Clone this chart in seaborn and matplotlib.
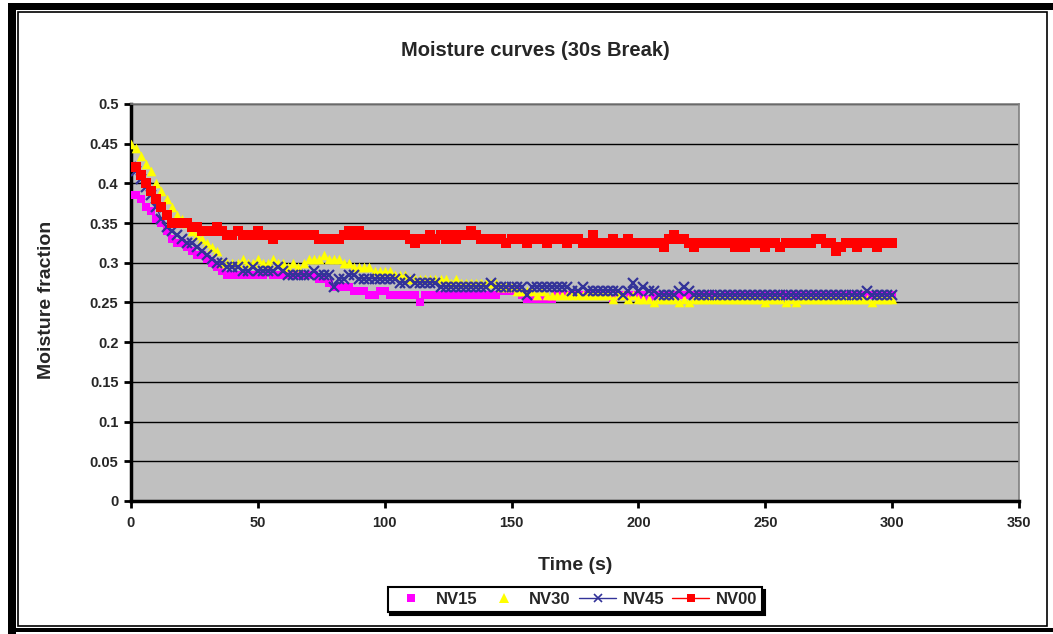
"""Moisture curves (30s Break) - recreated with seaborn + matplotlib."""

import matplotlib

matplotlib.use("Agg")

import matplotlib.pyplot as plt
import seaborn as sns
from matplotlib.lines import Line2D
from matplotlib.patches import Rectangle

# Sample times (s), one reading every 2 s
TIME_S = list(range(0, 301, 2))

NV15 = [
    0.385, 0.385, 0.38, 0.37, 0.365, 0.355, 0.35, 0.34, 0.33, 0.325,
    0.325, 0.32, 0.315, 0.31, 0.31, 0.305, 0.30, 0.295, 0.29, 0.285,
    0.285, 0.285, 0.285, 0.285, 0.285, 0.285, 0.285, 0.29, 0.285, 0.285,
    0.285, 0.285, 0.285, 0.285, 0.285, 0.285, 0.285, 0.28, 0.28, 0.275,
    0.27, 0.27, 0.27, 0.27, 0.265, 0.265, 0.265, 0.26, 0.26, 0.265,
    0.265, 0.26, 0.26, 0.26, 0.26, 0.26, 0.26, 0.25, 0.26, 0.26,
    0.26, 0.26, 0.26, 0.26, 0.26, 0.26, 0.26, 0.26, 0.26, 0.26,
    0.26, 0.26, 0.26, 0.265, 0.265, 0.265, 0.265, 0.26, 0.255, 0.255,
    0.255, 0.255, 0.255, 0.255, 0.26, 0.26, 0.26, 0.26, 0.26, 0.26,
    0.26, 0.26, 0.26, 0.26, 0.26, 0.255, 0.26, 0.26, 0.26, 0.26,
    0.26, 0.26, 0.255, 0.26, 0.26, 0.26, 0.26, 0.26, 0.26, 0.26,
    0.26, 0.26, 0.26, 0.26, 0.26, 0.26, 0.255, 0.26, 0.26, 0.26,
    0.26, 0.26, 0.26, 0.26, 0.26, 0.26, 0.26, 0.26, 0.26, 0.26,
    0.26, 0.26, 0.26, 0.26, 0.26, 0.26, 0.26, 0.26, 0.26, 0.26,
    0.26, 0.26, 0.26, 0.26, 0.26, 0.26, 0.26, 0.26, 0.26, 0.26,
    0.26,
]

NV30 = [
    0.45, 0.445, 0.435, 0.425, 0.415, 0.40, 0.39, 0.38, 0.37, 0.36,
    0.355, 0.35, 0.34, 0.335, 0.33, 0.325, 0.32, 0.315, 0.30, 0.30,
    0.30, 0.30, 0.305, 0.30, 0.30, 0.305, 0.30, 0.30, 0.305, 0.30,
    0.30, 0.295, 0.30, 0.295, 0.30, 0.305, 0.305, 0.305, 0.31, 0.305,
    0.305, 0.305, 0.30, 0.30, 0.295, 0.295, 0.295, 0.295, 0.29, 0.29,
    0.29, 0.29, 0.285, 0.285, 0.285, 0.28, 0.28, 0.28, 0.28, 0.28,
    0.28, 0.28, 0.28, 0.275, 0.28, 0.275, 0.275, 0.275, 0.275, 0.275,
    0.275, 0.275, 0.275, 0.27, 0.27, 0.27, 0.265, 0.265, 0.265, 0.265,
    0.26, 0.265, 0.26, 0.26, 0.26, 0.26, 0.26, 0.26, 0.26, 0.26,
    0.26, 0.26, 0.26, 0.26, 0.26, 0.255, 0.26, 0.26, 0.255, 0.26,
    0.255, 0.255, 0.255, 0.25, 0.255, 0.255, 0.255, 0.255, 0.25, 0.255,
    0.25, 0.255, 0.255, 0.255, 0.255, 0.255, 0.255, 0.255, 0.255, 0.255,
    0.255, 0.255, 0.255, 0.255, 0.255, 0.25, 0.255, 0.255, 0.255, 0.25,
    0.255, 0.25, 0.255, 0.255, 0.255, 0.255, 0.255, 0.255, 0.255, 0.255,
    0.255, 0.255, 0.255, 0.255, 0.255, 0.255, 0.25, 0.255, 0.255, 0.255,
    0.255,
]

NV45 = [
    0.42, 0.415, 0.405, 0.395, 0.385, 0.37, 0.355, 0.345, 0.34, 0.335,
    0.33, 0.325, 0.325, 0.32, 0.315, 0.31, 0.305, 0.30, 0.30, 0.295,
    0.295, 0.295, 0.29, 0.29, 0.295, 0.29, 0.29, 0.29, 0.29, 0.295,
    0.29, 0.285, 0.285, 0.285, 0.285, 0.285, 0.29, 0.285, 0.285, 0.285,
    0.27, 0.28, 0.28, 0.285, 0.285, 0.28, 0.28, 0.28, 0.28, 0.28,
    0.28, 0.28, 0.28, 0.275, 0.275, 0.28, 0.275, 0.275, 0.275, 0.275,
    0.275, 0.27, 0.27, 0.27, 0.27, 0.27, 0.27, 0.27, 0.27, 0.27,
    0.27, 0.275, 0.27, 0.27, 0.27, 0.27, 0.27, 0.27, 0.26, 0.27,
    0.27, 0.27, 0.27, 0.27, 0.27, 0.27, 0.27, 0.265, 0.265, 0.27,
    0.265, 0.265, 0.265, 0.265, 0.265, 0.265, 0.265, 0.26, 0.265, 0.275,
    0.265, 0.27, 0.265, 0.265, 0.26, 0.26, 0.26, 0.26, 0.265, 0.27,
    0.265, 0.26, 0.26, 0.26, 0.26, 0.26, 0.26, 0.26, 0.26, 0.26,
    0.26, 0.26, 0.26, 0.26, 0.26, 0.26, 0.26, 0.26, 0.26, 0.26,
    0.26, 0.26, 0.26, 0.26, 0.26, 0.26, 0.26, 0.26, 0.26, 0.26,
    0.26, 0.26, 0.26, 0.26, 0.26, 0.265, 0.26, 0.26, 0.26, 0.26,
    0.26,
]

NV00 = [
    0.42, 0.42, 0.41, 0.40, 0.39, 0.38, 0.37, 0.36, 0.35, 0.35,
    0.35, 0.35, 0.345, 0.345, 0.34, 0.34, 0.34, 0.345, 0.34, 0.335,
    0.335, 0.34, 0.335, 0.335, 0.335, 0.34, 0.335, 0.335, 0.33, 0.335,
    0.335, 0.335, 0.335, 0.335, 0.335, 0.335, 0.335, 0.33, 0.33, 0.33,
    0.33, 0.33, 0.335, 0.34, 0.335, 0.34, 0.335, 0.335, 0.335, 0.335,
    0.335, 0.335, 0.335, 0.335, 0.335, 0.33, 0.325, 0.33, 0.33, 0.335,
    0.33, 0.335, 0.33, 0.335, 0.33, 0.335, 0.335, 0.34, 0.335, 0.33,
    0.33, 0.33, 0.33, 0.33, 0.325, 0.33, 0.33, 0.33, 0.325, 0.33,
    0.33, 0.33, 0.325, 0.33, 0.33, 0.33, 0.325, 0.33, 0.33, 0.325,
    0.325, 0.335, 0.325, 0.325, 0.325, 0.33, 0.325, 0.325, 0.33, 0.325,
    0.325, 0.325, 0.325, 0.325, 0.325, 0.32, 0.33, 0.335, 0.33, 0.33,
    0.325, 0.32, 0.325, 0.325, 0.325, 0.325, 0.325, 0.325, 0.325, 0.32,
    0.325, 0.32, 0.325, 0.325, 0.325, 0.32, 0.325, 0.325, 0.32, 0.325,
    0.325, 0.325, 0.325, 0.325, 0.325, 0.33, 0.33, 0.325, 0.325, 0.315,
    0.32, 0.325, 0.325, 0.32, 0.325, 0.325, 0.325, 0.32, 0.325, 0.325,
    0.325,
]

SERIES = ["NV15", "NV30", "NV45", "NV00"]
COLORS = {"NV15": "#FF00FF", "NV30": "#FFFF00", "NV45": "#333399", "NV00": "#FF0000"}
PLOT_BG = "#C0C0C0"

sns.set_theme(style="white")
plt.rcParams["font.family"] = ["Liberation Sans", "DejaVu Sans"]
plt.rcParams["font.weight"] = "bold"

fig = plt.figure(figsize=(10.53, 6.34), dpi=100)
ax = fig.add_axes([0.1244, 0.2098, 0.8433, 0.6262])
ax.set_facecolor(PLOT_BG)

# Series drawn in legend order so later ones sit on top (as in the original)
sns.scatterplot(x=TIME_S, y=NV15, marker="s", s=40, color=COLORS["NV15"],
                linewidth=0, ax=ax, legend=False, zorder=3)
sns.scatterplot(x=TIME_S, y=NV30, marker="^", s=48, color=COLORS["NV30"],
                linewidth=0, ax=ax, legend=False, zorder=3)
sns.lineplot(x=TIME_S, y=NV45, color=COLORS["NV45"], linewidth=1.0, marker="x",
             markersize=6.5, markeredgewidth=1.6, markeredgecolor=COLORS["NV45"],
             ax=ax, legend=False, zorder=4)
sns.lineplot(x=TIME_S, y=NV00, color=COLORS["NV00"], linewidth=1.0, marker="s",
             markersize=6.5, markeredgewidth=0, markeredgecolor=COLORS["NV00"],
             ax=ax, legend=False, zorder=5)

ax.set_xlim(0, 350)
ax.set_ylim(0, 0.5)
ax.set_xticks(range(0, 351, 50))
ax.set_yticks([i * 0.05 for i in range(11)])
ax.set_yticklabels([f"{i * 0.05:g}" for i in range(11)])
ax.yaxis.grid(True, color="black", linewidth=1.0)
ax.xaxis.grid(False)
ax.set_axisbelow(True)

for side in ("left", "bottom"):
    ax.spines[side].set_color("black")
    ax.spines[side].set_linewidth(2.5)
for side in ("top", "right"):
    ax.spines[side].set_color("#808080")
    ax.spines[side].set_linewidth(1.2)

ax.tick_params(axis="both", direction="out", length=5, width=2, color="black",
               labelsize=10.5, pad=4, bottom=True, left=True)
for lbl in ax.get_xticklabels() + ax.get_yticklabels():
    lbl.set_fontweight("bold")
ax.tick_params(axis="x", pad=6)

ax.set_xlabel("Time (s)", fontsize=14, fontweight="bold")
ax.set_ylabel("Moisture fraction", fontsize=14, fontweight="bold")
ax.xaxis.set_label_coords(0.5, -0.141)
ax.yaxis.set_label_coords(-0.086, 0.506)

fig.text(0.508, 0.921, "Moisture curves (30s Break)", ha="center", va="center",
         fontsize=14.5, fontweight="bold")

handles = [
    Line2D([], [], linestyle="", marker="s", markersize=6, color=COLORS["NV15"], markeredgewidth=0),
    Line2D([], [], linestyle="", marker="^", markersize=7, color=COLORS["NV30"], markeredgewidth=0),
    Line2D([], [], color=COLORS["NV45"], linewidth=1, marker="x", markersize=6, markeredgewidth=1.2),
    Line2D([], [], color=COLORS["NV00"], linewidth=1, marker="s", markersize=6, markeredgewidth=0),
]
leg = fig.legend(handles, SERIES, loc="center", bbox_to_anchor=(0.546, 0.054), ncol=4,
                 frameon=True, fancybox=False, shadow={"color": "black", "alpha": 1.0},
                 prop={"weight": "bold", "size": 12}, handlelength=2.2,
                 columnspacing=0.5, handletextpad=0.4, borderpad=0.3)
leg.get_frame().set_edgecolor("black")
leg.get_frame().set_linewidth(1.5)
leg.get_frame().set_facecolor("white")

# Chart-area border: thick black top/left plus thin inner frame
W, H = 1053, 634


def px_rect(x0, y0, x1, y1, **kw):
    """Rectangle given in image pixel coordinates (origin top-left)."""
    return Rectangle((x0 / W, 1 - y1 / H), (x1 - x0) / W, (y1 - y0) / H,
                     transform=fig.transFigure, **kw)


fig.add_artist(px_rect(8, 3, 1053, 10, facecolor="black", edgecolor="none"))
fig.add_artist(px_rect(8, 3, 16, 634, facecolor="black", edgecolor="none"))
fig.add_artist(px_rect(8, 628, 1053, 632, facecolor="black", edgecolor="none"))
fig.add_artist(px_rect(18, 12, 1047, 626, facecolor="none", edgecolor="black", linewidth=1.2))

fig.savefig("out.png", dpi=100)
